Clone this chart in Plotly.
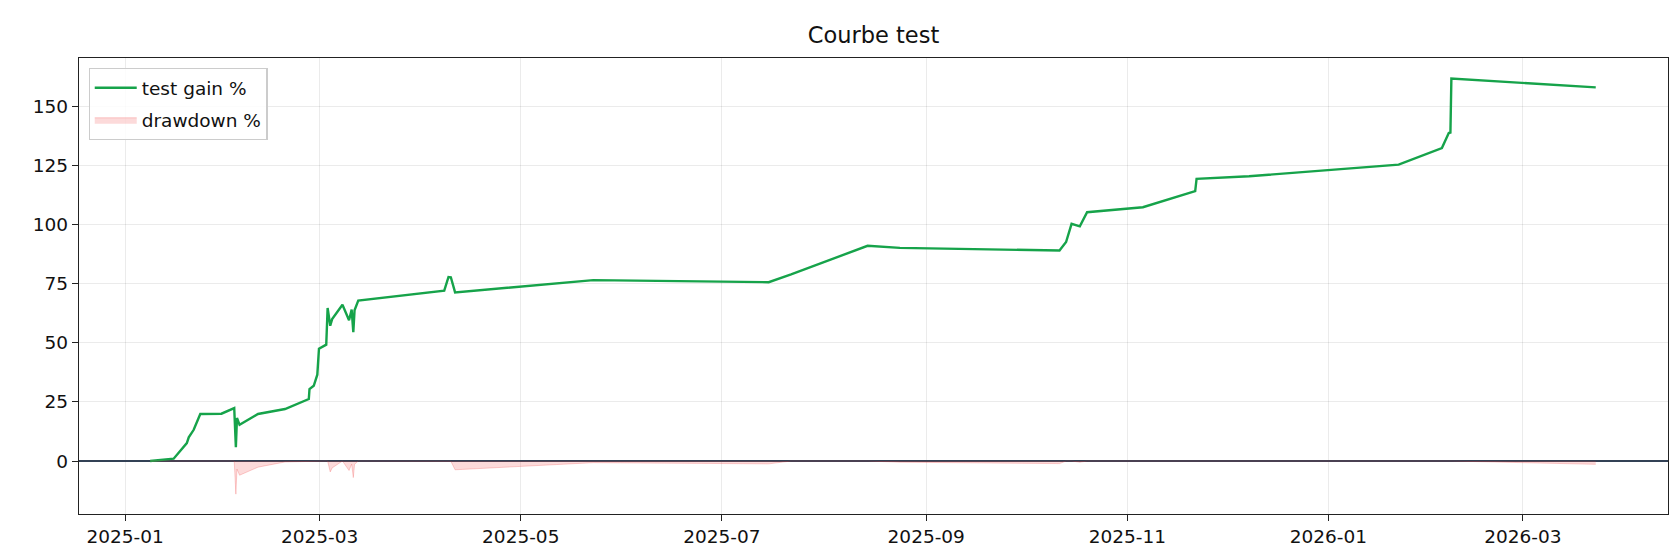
import plotly.graph_objects as go

# equity curve points (gain % since start) and drawdown %
dates = [
    '2025-01-08 14:00', '2025-01-15 17:00', '2025-01-19 17:00', '2025-01-20 07:00',
    '2025-01-21 19:00', '2025-01-23 19:00', '2025-01-30 05:00', '2025-02-03 02:00',
    '2025-02-03 14:00', '2025-02-03 22:00', '2025-02-04 17:00', '2025-02-10 07:00',
    '2025-02-18 12:00', '2025-02-25 17:00', '2025-02-25 22:00', '2025-02-27 05:00',
    '2025-02-28 07:00', '2025-02-28 19:00', '2025-03-03 00:00', '2025-03-03 10:00',
    '2025-03-04 05:00', '2025-03-04 19:00', '2025-03-07 22:00', '2025-03-09 22:00',
    '2025-03-10 17:00', '2025-03-11 05:00', '2025-03-11 14:00', '2025-03-12 17:00',
    '2025-04-07 19:00', '2025-04-09 02:00', '2025-04-09 19:00', '2025-04-11 02:00',
    '2025-05-23 00:00', '2025-07-15 05:00', '2025-07-22 00:00', '2025-08-14 05:00',
    '2025-08-24 00:00', '2025-10-11 10:00', '2025-10-13 10:00', '2025-10-15 02:00',
    '2025-10-17 14:00', '2025-10-19 19:00', '2025-11-05 17:00', '2025-11-21 14:00',
    '2025-11-22 00:00', '2025-12-07 22:00', '2026-01-22 07:00', '2026-02-04 10:00',
    '2026-02-06 12:00', '2026-02-07 00:00', '2026-02-07 07:00', '2026-03-23 02:00',
]
gain_pct = [
    0.0, 1.0, 7.6, 10.0,
    13.2, 19.9, 20.0, 22.4,
    5.8, 18.2, 15.3, 19.9,
    22.0, 26.2, 30.4, 31.8,
    36.5, 47.5, 49.2, 64.7,
    57.2, 60.0, 66.1, 59.5,
    64.0, 54.5, 63.7, 67.8,
    72.0, 77.8, 77.7, 71.3,
    76.5, 75.6, 78.9, 91.0,
    90.1, 89.0, 92.6, 100.3,
    99.2, 105.2, 107.3, 114.1,
    119.3, 120.4, 125.3, 132.3,
    138.7, 138.9, 161.7, 158.0,
]
drawdown_pct = [
    0.0, 0.0, 0.0, 0.0,
    0.0, 0.0, 0.0, 0.0,
    -14.0, -3.4, -6.0, -2.6,
    -0.4, 0.0, 0.0, 0.0,
    0.0, 0.0, 0.0, 0.0,
    -4.6, -2.9, 0.0, -4.0,
    -1.3, -7.0, -1.4, 0.0,
    0.0, 0.0, -0.1, -3.7,
    -0.7, -1.2, 0.0, 0.0,
    -0.5, -1.1, 0.0, 0.0,
    -0.5, 0.0, 0.0, 0.0,
    0.0, 0.0, 0.0, 0.0,
    0.0, 0.0, 0.0, -1.4,
]

font = 'DejaVu Sans'

gain = go.Scatter(
    x=dates, y=gain_pct, mode='lines', name='test gain %', legendgroup='g',
    line={'color': '#16a34a', 'width': 2.4})

dd = go.Scatter(
    x=dates, y=drawdown_pct, mode='lines', name='drawdown %', legendgroup='d',
    fill='tozeroy', fillcolor='rgba(239,68,68,0.2)',
    line={'color': 'rgba(239,68,68,0.25)', 'width': 1})

fig = go.Figure([gain, dd])

axis_common = dict(
    showline=True, mirror=True, linecolor='#222', linewidth=1.3,
    ticks='outside', ticklen=6, tickcolor='#222', tickwidth=1.3,
    showgrid=True, gridcolor='rgba(0,0,0,0.08)', gridwidth=1.2,
    tickfont={'family': font, 'size': 18.5, 'color': '#111'},
)

fig.update_xaxes(
    range=['2024-12-18', '2026-04-14'],
    tickformat='%Y-%m', dtick='M2', tick0='2025-01-01',
    zeroline=False, **axis_common)

fig.update_yaxes(
    range=[-22.4, 170.4], tickvals=[0, 25, 50, 75, 100, 125, 150],
    zeroline=True, zerolinecolor='#334155', zerolinewidth=1.5,
    **axis_common)

fig.update_layout(
    width=1680, height=560,
    plot_bgcolor='white', paper_bgcolor='white',
    margin=dict(l=71, r=20, t=50, b=54),
    title=dict(text='Courbe test', x=0.5, xref='paper', xanchor='center',
               y=0.952, yanchor='middle',
               font={'family': font, 'size': 22.5, 'color': '#111'}),
    showlegend=True,
    legend=dict(x=0.006, y=0.978, xanchor='left', yanchor='top',
                bgcolor='rgba(255,255,255,0.85)', bordercolor='#cccccc', borderwidth=1.2,
                font={'family': font, 'size': 18.5, 'color': '#111'},
                tracegroupgap=5, itemwidth=42),
)

fig.write_html("out.html")
